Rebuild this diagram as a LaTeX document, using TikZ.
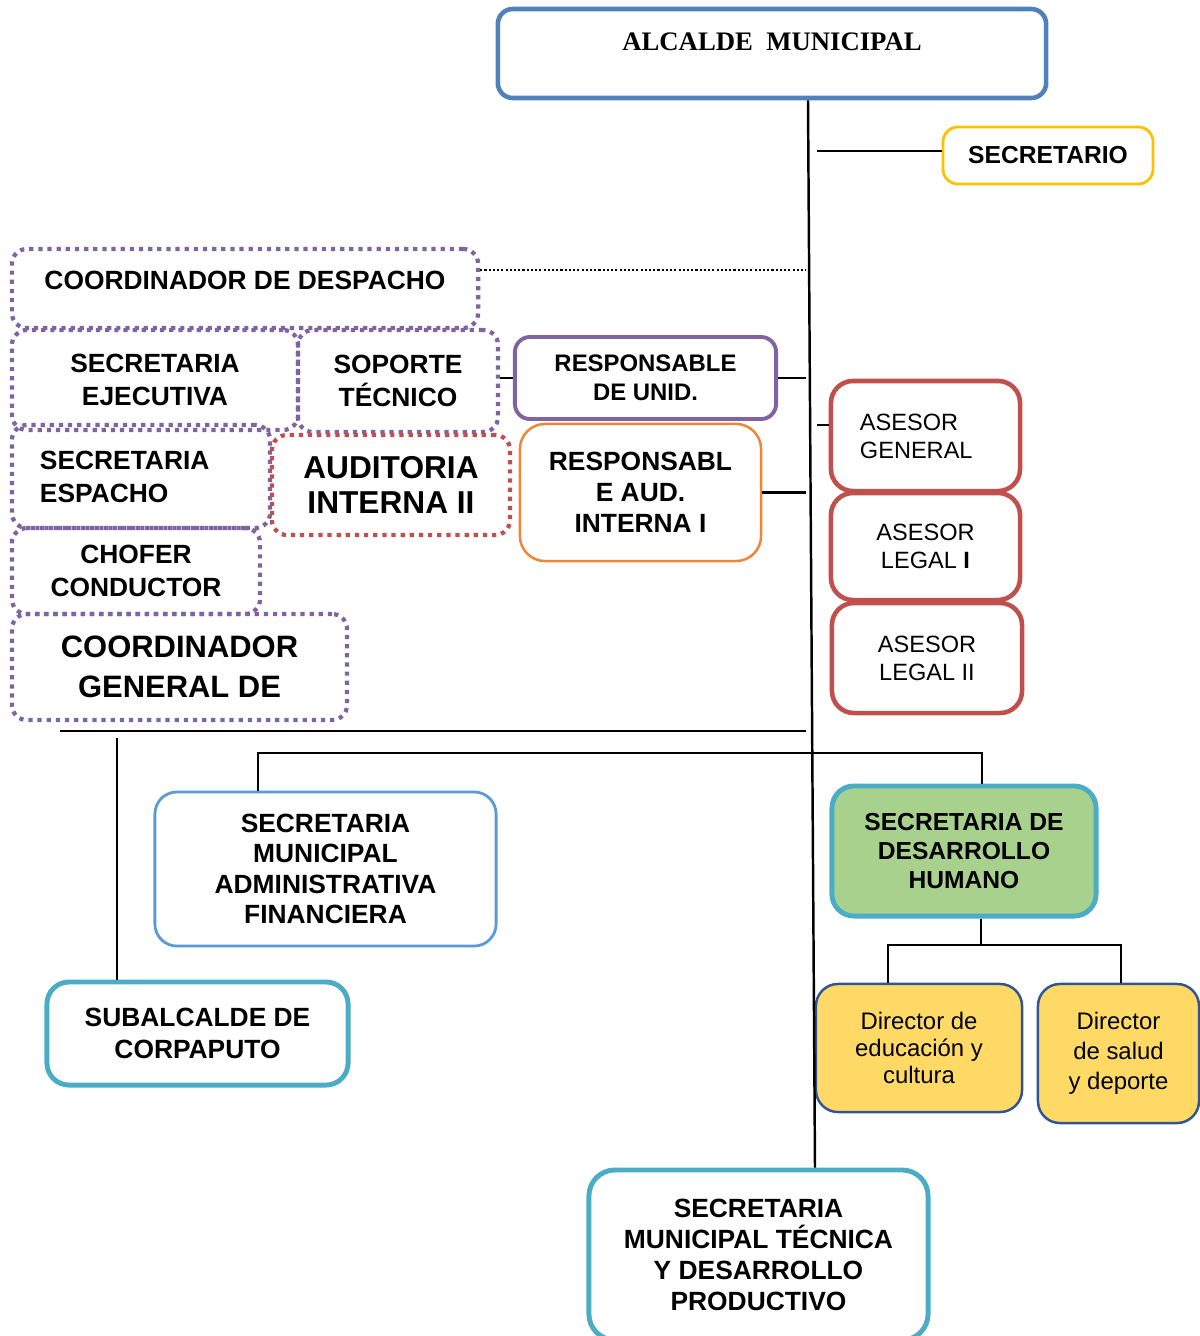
\documentclass[tikz,border=0pt]{standalone}
\usepackage{fontspec}
\setmainfont{Liberation Sans}
\newfontfamily\titlefont{Liberation Serif}
\usepackage{tikz}
\usetikzlibrary{positioning}

\definecolor{alcblue}{HTML}{4F81BD}
\definecolor{secyellow}{HTML}{FFC000}
\definecolor{coordpurple}{HTML}{8064A2}
\definecolor{audred}{HTML}{C0504D}
\definecolor{audorange}{HTML}{F08535}
\definecolor{lightblue}{HTML}{5B9BD5}
\definecolor{teal}{HTML}{4BACC6}
\definecolor{humgreen}{HTML}{A9D18E}
\definecolor{dirfill}{HTML}{FFD966}
\definecolor{dirblue}{HTML}{2F5597}

\tikzset{
  box/.style={draw, rounded corners=1.5mm, align=center, inner sep=0pt,
    font=\bfseries\fontsize{7.5}{9.4}\selectfont},
  dotbox/.style={box, draw=coordpurple, line width=1.2pt, dash pattern=on 1.2pt off 1.4pt},
  asesorbox/.style={box, draw=audred, line width=1.3pt, rounded corners=2.2mm,
    minimum width=18.9mm, font=\fontsize{6.7}{8}\selectfont},
  tealbox/.style={box, draw=teal, line width=1.4pt, rounded corners=2.2mm},
  dirbox/.style={box, draw=dirblue, fill=dirfill, line width=0.7pt, rounded corners=2.2mm,
    font=\fontsize{6.8}{7.7}\selectfont},
  conn/.style={line width=0.7pt},
  thinconn/.style={line width=0.4pt}
}

\begin{document}
\begin{tikzpicture}[x=0.01cm, y=-0.01cm]
    \useasboundingbox (0,0) rectangle (1200,1336);

    % Draw top of the chart
    \node[box, draw=alcblue, line width=1.3pt, minimum width=54.8mm, minimum height=8.9mm,
      text depth=2.3mm, font=\titlefont\bfseries\fontsize{7.6}{9}\selectfont] (alc) at (772,53.5) {ALCALDE\ \ MUNICIPAL};
    \node[box, draw=secyellow, line width=0.8pt, minimum width=21mm, minimum height=5.7mm,
      font=\bfseries\fontsize{7}{8}\selectfont] (sec) at (1048,155.5) {SECRETARIO};

    % Dotted group on the left
    \node[dotbox, minimum width=46.6mm, minimum height=7.9mm, text depth=1.7mm] (cdd) at (245,288.5) {COORDINADOR DE DESPACHO};
    \node[dotbox, minimum width=28.6mm, minimum height=10mm] (sej) at (155,380) {SECRETARIA\\EJECUTIVA};
    \node[dotbox, minimum width=20mm, minimum height=10.2mm] (sop) at (398,381) {SOPORTE\\TÉCNICO};
    \node[dotbox, minimum width=25.8mm, minimum height=10.3mm, align=left, text width=20.2mm] (sesp) at (141,476.5) {SECRETARIA\\ESPACHO};
    \node[dotbox, draw=audred, minimum width=23.8mm, minimum height=10mm,
      font=\bfseries\fontsize{9}{10.2}\selectfont] (aud) at (391,485) {AUDITORIA\\INTERNA II};
    \node[dotbox, minimum width=24.8mm, minimum height=8.6mm] (cho) at (136,571) {CHOFER\\CONDUCTOR};
    \node[dotbox, minimum width=33.5mm, minimum height=10.6mm,
      font=\bfseries\fontsize{8.8}{11.4}\selectfont] (cgd) at (179.5,667) {COORDINADOR\\GENERAL DE};

    % Responsables
    \node[box, draw=coordpurple, line width=1.1pt, minimum width=26.1mm, minimum height=8.2mm,
      font=\bfseries\fontsize{6.8}{8.3}\selectfont] (rdu) at (645.5,378) {RESPONSABLE\\DE UNID.};
    \node[box, draw=audorange, line width=0.7pt, rounded corners=2.5mm, minimum width=24.1mm, minimum height=13.7mm,
      font=\bfseries\fontsize{7.5}{8.8}\selectfont] (rai) at (640.5,492.5) {RESPONSABL\\E AUD.\\INTERNA I};

    % Asesores
    \node[asesorbox, minimum height=11mm, align=left, text width=13.1mm] (ag) at (925.5,436) {ASESOR\\GENERAL};
    \node[asesorbox, minimum height=10.7mm] (al1) at (925.5,546.5) {ASESOR\\LEGAL \textbf{I}};
    \node[asesorbox, minimum width=19mm, minimum height=11mm] (al2) at (927,658) {ASESOR\\LEGAL II};

    % Secretarias
    \node[box, draw=lightblue, line width=0.8pt, rounded corners=2.2mm, minimum width=34.1mm, minimum height=15.4mm,
      font=\bfseries\fontsize{7.5}{8.6}\selectfont] (smaf) at (325.5,869) {SECRETARIA\\MUNICIPAL\\ADMINISTRATIVA\\FINANCIERA};
    \node[tealbox, fill=humgreen, minimum width=26.4mm, minimum height=13mm,
      font=\bfseries\fontsize{7}{8.3}\selectfont] (sdh) at (964,851) {SECRETARIA DE\\DESARROLLO\\HUMANO};
    \node[dirbox, minimum width=20.6mm, minimum height=12.8mm] (dec) at (919,1048) {Director de\\educación y\\cultura};
    \node[dirbox, minimum width=16.1mm, minimum height=13.9mm, font=\fontsize{6.8}{8.5}\selectfont] (dsd) at (1118.5,1053.5) {Director\\de salud\\y deporte};
    \node[tealbox, minimum width=30.1mm, minimum height=10.3mm, font=\bfseries\fontsize{7.5}{9.1}\selectfont] (sub) at (197.5,1033.5) {SUBALCALDE DE\\CORPAPUTO};
    \node[tealbox, rounded corners=2.6mm, minimum width=33.9mm, minimum height=17mm,
      font=\bfseries\fontsize{7.5}{8.8}\selectfont] (smtdp) at (758.5,1255) {SECRETARIA\\MUNICIPAL TÉCNICA\\Y DESARROLLO\\PRODUCTIVO};

    % Main line and branches
    \draw[conn] (alc.south -| 808,0) -- (smtdp.north -| 815,0);
    \draw[thinconn] (817,151) -- (sec.west |- 0,151);
    \coordinate (dd) at (806,270);
    \draw[line width=0.6pt, dash pattern=on 0.6pt off 0.6pt] (cdd.east |- dd) -- (dd);
    \draw[conn] (sop.east |- rdu.west) -- (rdu.west);
    \draw[conn] (rdu.east) -- (rdu.east -| 806,0);
    \draw[conn] (rai.east) -- (rai.east -| 806,0);
    \draw[conn] (ag.west |- 0,425) -- (817,425);

    % Lower lines
    \coordinate (h1) at (60,731);
    \coordinate (h2) at (806,731);
    \draw[thinconn] (h1) -- (h2);
    \coordinate (s) at (117,738);
    \draw[thinconn] (s) -- (s |- sub.north);
    \draw[conn] (smaf.north -| 258,0) -- (258,753) -| (sdh.north -| 982,0);
    \draw[conn] (sdh.south -| 981,0) -- (981,945);
    \draw[conn] (dec.north -| 888,0) -- (888,945) -| (dsd.north -| 1121,0);
\end{tikzpicture}
\end{document}
